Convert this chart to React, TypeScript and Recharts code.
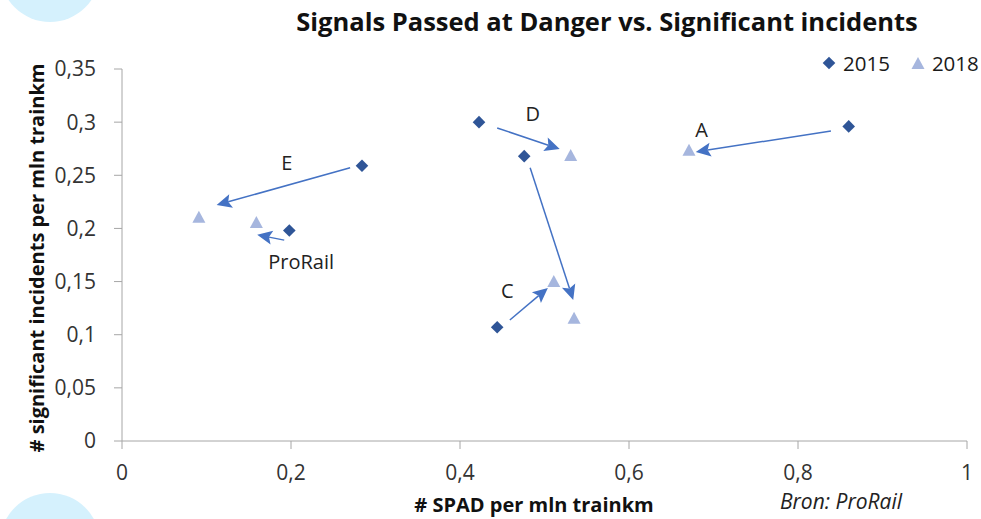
import React from 'react';
import {
  ScatterChart,
  Scatter,
  XAxis,
  YAxis,
  ReferenceLine,
  ReferenceDot,
  Legend,
  Customized,
} from 'recharts';

// 2015 values (diamonds)
const spad2015 = [0.86, 0.284, 0.198, 0.4225, 0.476, 0.444];
const inc2015 = [0.296, 0.259, 0.198, 0.3, 0.268, 0.107];
// 2018 values (triangles)
const spad2018 = [0.671, 0.091, 0.159, 0.531, 0.511, 0.535];
const inc2018 = [0.274, 0.211, 0.206, 0.269, 0.1505, 0.116];

// arrows (data units)
const arrowFromX = [0.839, 0.27, 0.192, 0.444, 0.483, 0.459];
const arrowFromY = [0.2917, 0.257, 0.189, 0.2945, 0.257, 0.1138];
const arrowToX = [0.679, 0.112, 0.16, 0.518, 0.534, 0.504];
const arrowToY = [0.272, 0.222, 0.194, 0.2747, 0.1327, 0.144];

// annotation labels
const labelNames = ['A', 'E', 'ProRail', 'D', 'C'];
const labelX = [0.686, 0.195, 0.212, 0.486, 0.456];
const labelY = [0.2926, 0.2616, 0.1684, 0.3077, 0.141];

const xTicks = [0, 0.2, 0.4, 0.6, 0.8, 1];
const yTicks = [0, 0.05, 0.1, 0.15, 0.2, 0.25, 0.3, 0.35];

const data2015 = spad2015.map((x, i) => ({ x, y: inc2015[i] }));
const data2018 = spad2018.map((x, i) => ({ x, y: inc2018[i] }));

const FONT = '"Open Sans", sans-serif';
const DIAMOND = '#2F5597';
const TRI = '#A6B6DE';
const ARROW = '#4472C4';

const fmt = (v: number) => String(v).replace('.', ',');

const Diamond = (p: any) => {
  const { cx, cy } = p;
  const s = 6.3;
  return (
    <polygon
      points={`${cx},${cy - s} ${cx + s},${cy} ${cx},${cy + s} ${cx - s},${cy}`}
      fill={DIAMOND}
    />
  );
};

const Triangle = (p: any) => {
  const { cx, cy } = p;
  const w = 6.5;
  const h = 6;
  return (
    <polygon
      points={`${cx},${cy - h} ${cx + w},${cy + h} ${cx - w},${cy + h}`}
      fill={TRI}
    />
  );
};

const Arrow = (p: any) => {
  const { x1, y1, x2, y2 } = p;
  if ([x1, y1, x2, y2].some((v) => typeof v !== 'number' || isNaN(v))) return <g />;
  const dx = x2 - x1;
  const dy = y2 - y1;
  const len = Math.hypot(dx, dy) || 1;
  const ux = dx / len;
  const uy = dy / len;
  const headL = 15;
  const headW = 7;
  const bx = x2 - ux * headL;
  const by = y2 - uy * headL;
  const nx = bx + ux * 3;
  const ny = by + uy * 3;
  return (
    <g>
      <line x1={x1} y1={y1} x2={nx} y2={ny} stroke={ARROW} strokeWidth={1.5} />
      <polygon
        points={`${x2},${y2} ${bx - uy * headW},${by + ux * headW} ${nx},${ny} ${bx + uy * headW},${by - ux * headW}`}
        fill={ARROW}
      />
    </g>
  );
};

const LegendContent = () => (
  <div style={{ display: 'flex', alignItems: 'center', fontFamily: FONT, fontSize: 20.5, color: '#1a1a1a', lineHeight: '24px' }}>
    <svg width={14} height={14} style={{ marginRight: 7 }}>
      <polygon points="7,0.7 13.3,7 7,13.3 0.7,7" fill={DIAMOND} />
    </svg>
    <span style={{ marginRight: 21 }}>2015</span>
    <svg width={14} height={14} style={{ marginRight: 7 }}>
      <polygon points="7,1 13.5,13 0.5,13" fill={TRI} />
    </svg>
    <span>2018</span>
  </div>
);

const Titles = () => (
  <g>
    <text
      x={607}
      y={31}
      textAnchor="middle"
      fontFamily={FONT}
      fontWeight="bold"
      fontSize={25.5}
      fill="#111"
    >
      Signals Passed at Danger vs. Significant incidents
    </text>
    <text
      x={902}
      y={509}
      textAnchor="end"
      fontFamily={FONT}
      fontStyle="italic"
      fontSize={21}
      fill="#222"
    >
      Bron: ProRail
    </text>
    <text
      x={36}
      y={258}
      transform="rotate(-90 36 258)"
      textAnchor="middle"
      dominantBaseline="central"
      fontFamily={FONT}
      fontWeight="bold"
      fontSize={20}
      fill="#111"
    >
      # significant incidents per mln trainkm
    </text>
    <text
      x={534}
      y={512}
      textAnchor="middle"
      fontFamily={FONT}
      fontWeight="bold"
      fontSize={20}
      fill="#111"
    >
      # SPAD per mln trainkm
    </text>
  </g>
);

export default function App() {
  return (
    <div style={{ position: 'absolute', left: 0, top: 0, width: 981, height: 519, background: '#fff', overflow: 'hidden' }}>
      <div style={{ position: 'absolute', left: 0, top: -78, width: 100, height: 100, borderRadius: '50%', background: '#D5F1FD' }} />
      <div style={{ position: 'absolute', left: 0, top: 493, width: 100, height: 100, borderRadius: '50%', background: '#D5F1FD' }} />
      <ScatterChart
        width={981}
        height={519}
        margin={{ top: 69, right: 14, bottom: 0, left: 62 }}
        style={{ position: 'absolute', left: 0, top: 0 }}
      >
        <XAxis
          type="number"
          dataKey="x"
          domain={[0, 1]}
          ticks={xTicks}
          tickFormatter={fmt}
          height={78}
          tickSize={8}
          tickMargin={16}
          stroke="#A6A6A6"
          tick={{ fill: '#333', fontSize: 21, fontFamily: FONT }}
        />
        <YAxis
          type="number"
          dataKey="y"
          domain={[0, 0.35]}
          ticks={yTicks}
          tickFormatter={fmt}
          width={60}
          tickSize={8}
          tickMargin={18}
          stroke="#A6A6A6"
          tick={{ fill: '#333', fontSize: 21, fontFamily: FONT }}
        />
        <Legend
          layout="horizontal"
          verticalAlign="middle"
          align="center"
          content={<LegendContent />}
          wrapperStyle={{ position: 'absolute', top: 51, left: 822, width: 'auto' }}
        />
        {arrowFromX.map((x, i) => (
          <ReferenceLine
            key={'a' + i}
            segment={[
              { x, y: arrowFromY[i] },
              { x: arrowToX[i], y: arrowToY[i] },
            ]}
            shape={Arrow}
            ifOverflow="visible"
          />
        ))}
        {labelNames.map((n, i) => (
          <ReferenceDot
            key={'l' + i}
            x={labelX[i]}
            y={labelY[i]}
            r={0}
            fill="none"
            stroke="none"
            ifOverflow="visible"
            label={{ value: n, position: 'center', fill: '#222', fontSize: 20, fontFamily: FONT }}
          />
        ))}
        <Scatter name="2015" data={data2015} shape={Diamond} isAnimationActive={false} />
        <Scatter name="2018" data={data2018} shape={Triangle} isAnimationActive={false} />
        <Customized component={Titles} />
      </ScatterChart>
    </div>
  );
}
